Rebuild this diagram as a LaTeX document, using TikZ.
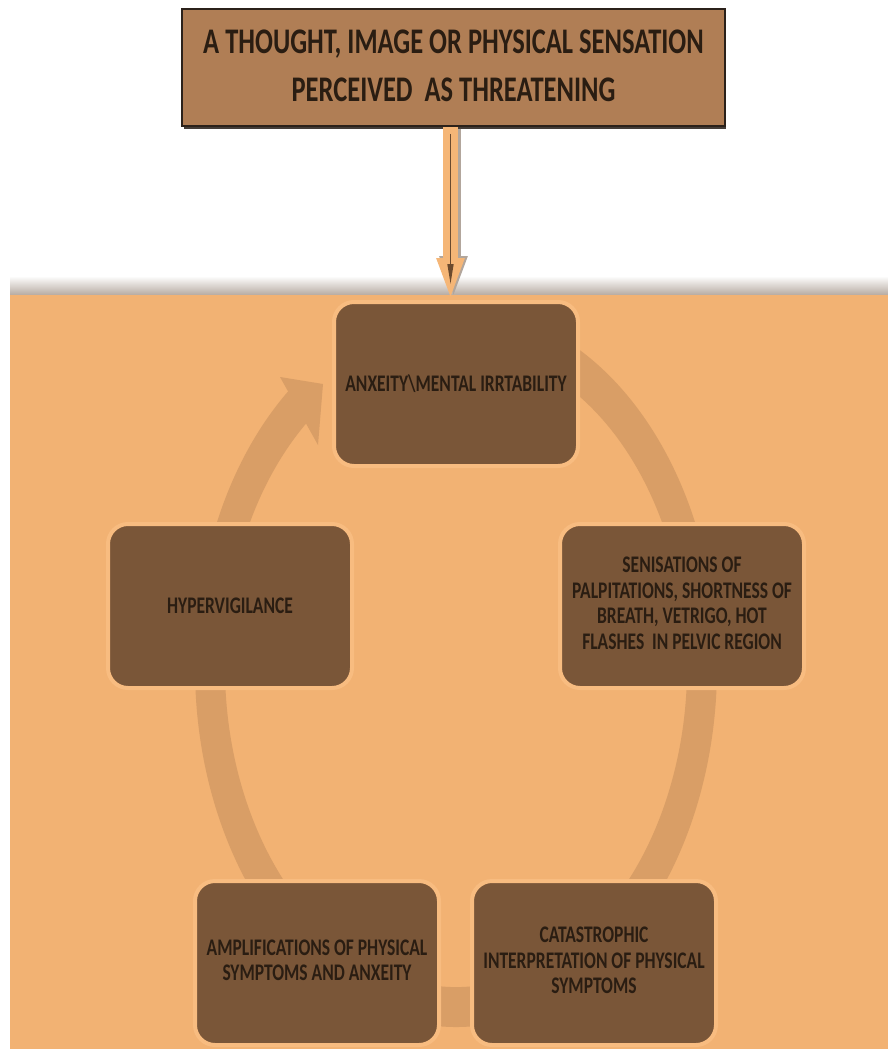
\documentclass[tikz,border=0pt]{standalone}
\usepackage{fontspec}
\usepackage{graphicx}
\newfontfamily\carl{Carlito}
\usetikzlibrary{calc,arrows.meta}
\definecolor{panel}{RGB}{242,178,115}
\definecolor{ringc}{RGB}{217,158,102}
\definecolor{boxfill}{RGB}{122,86,56}
\definecolor{boxedge}{RGB}{248,188,128}
\definecolor{txt}{RGB}{42,29,18}
\definecolor{topfill}{RGB}{176,126,85}
\definecolor{topedge}{RGB}{43,33,26}
\definecolor{arrowfill}{RGB}{245,182,119}
\definecolor{arrowinner}{RGB}{107,74,46}
\definecolor{shadowc}{RGB}{178,166,156}
\newcommand\vstr[1]{\scalebox{1}[1.36]{#1}}
\begin{document}
\begin{tikzpicture}[x=1pt,y=1pt,
  cbox/.style={rounded corners=20pt, fill=boxfill, draw=boxedge, line width=4pt,
    minimum width=244pt, minimum height=164pt, inner sep=0pt, text=txt,
    font=\carl\bfseries\fontsize{17.5}{18.8}\selectfont},
  topbox/.style={fill=topfill, draw=topedge, line width=1.5pt,
    minimum width=543pt, minimum height=117pt, inner sep=0pt, text=txt,
    font=\carl\bfseries\fontsize{26.5}{35.3}\selectfont},
  ringpart/.style={fill=ringc},
  outerarrow/.style={line width=15pt, draw=arrowfill, -{Triangle[width=25pt,length=42pt]}},
  shadowarrow/.style={line width=15pt, draw=shadowc, -{Triangle[width=25pt,length=42pt]}},
  innerarrow/.style={line width=1.5pt, draw=arrowinner, -{Triangle[width=6pt,length=20pt]}}
]
\useasboundingbox (0,0) rectangle (888,-1049);
\fill[white] (0,0) rectangle (888,-1049);
% panel with shadow above
\shade[top color=white, bottom color=shadowc] (10,-276) rectangle (888,-296);
\fill[panel] (10,-295) rectangle (888,-1049);
% cycle ring
\coordinate (c) at (456,-667);
\fill[ringpart] ($(c)+(128:261 and 360)$)
  arc[start angle=128,end angle=430,x radius=261,y radius=360]
  -- ($(c)+(430:231 and 320)$)
  arc[start angle=430,end angle=128,x radius=231,y radius=320] -- cycle;
\fill[ringpart] (280,-377) -- (323,-384) -- (318,-445) -- cycle;
% cycle boxes
\node[cbox] (anx) at (456,-384) {\vstr{ANXEITY\textbackslash MENTAL IRRTABILITY}};
\node[cbox] (sen) at (682,-606) {\vstr{\begin{tabular}{@{}c@{}}SENISATIONS OF\\PALPITATIONS, SHORTNESS OF\\BREATH, VETRIGO, HOT\\FLASHES\ \ IN PELVIC REGION\end{tabular}}};
\node[cbox] (cat) at (594,-963) {\vstr{\begin{tabular}{@{}c@{}}CATASTROPHIC\\INTERPRETATION OF PHYSICAL\\SYMPTOMS\end{tabular}}};
\node[cbox] (amp) at (317,-963) {\vstr{\begin{tabular}{@{}c@{}}AMPLIFICATIONS OF PHYSICAL\\SYMPTOMS AND ANXEITY\end{tabular}}};
\node[cbox] (hyp) at (230,-606) {\vstr{HYPERVIGILANCE}};
% top box
\fill[topedge!70!gray] (183.5,-10) rectangle (725.5,-128.5);
\node[topbox] (top) at (453.5,-67.5) {\vstr{\begin{tabular}{@{}c@{}}A THOUGHT, IMAGE OR PHYSICAL SENSATION\\PERCEIVED\ \ AS THREATENING\end{tabular}}};
% arrow
\coordinate (a0) at ([xshift=-3pt]top.south);
\coordinate (a1) at (a0 |- anx.north);
\draw[shadowarrow] ([xshift=3pt,yshift=-2pt]a0) -- ([xshift=3pt,yshift=2pt]a1);
\draw[outerarrow] (a0) -- (a1);
\draw[innerarrow] ([yshift=-7pt]a0) -- ([yshift=16pt]a1);
\end{tikzpicture}
\end{document}
